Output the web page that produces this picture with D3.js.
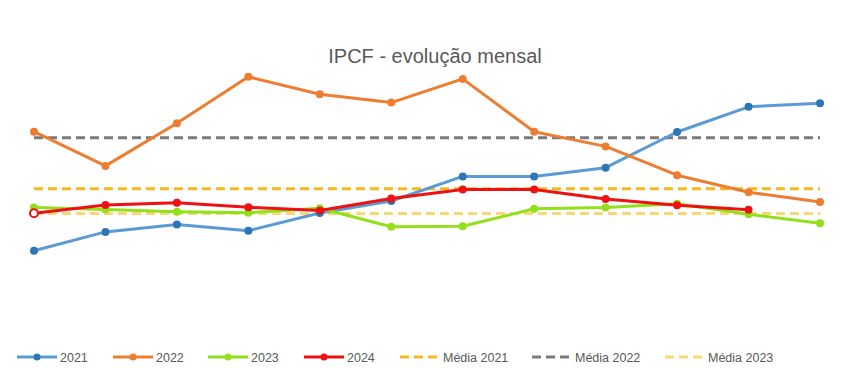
<!DOCTYPE HTML>
<html lang="pt">
<head>
<meta charset="utf-8">
<title>IPCF - evolução mensal</title>
<style>
html, body {
    margin: 0;
    background: #fff;
 }
svg text {
    font-family: "Liberation Sans", Arial, sans-serif;
    fill: #595959;
 }
</style>
</head>
<body>

<div id="chart"></div>

<script src="https://cdnjs.cloudflare.com/ajax/libs/d3/7.8.5/d3.min.js"></script>
<script>
(function() {
  'use strict';

// Data
const months = ['jan', 'fev', 'mar', 'abr', 'mai', 'jun', 'jul', 'ago', 'set', 'out', 'nov', 'dez'];
const ipcf2021 = [86.4, 92.7, 95.2, 93.1, 99.0, 103.0, 111.2, 111.2, 114.1, 126.0, 134.4, 135.6];
const ipcf2022 = [126.1, 114.7, 128.9, 144.4, 138.6, 135.8, 143.7, 126.1, 121.2, 111.6, 105.9, 102.7];
const ipcf2023 = [100.8, 100.2, 99.4, 99.1, 100.6, 94.4, 94.6, 100.4, 100.8, 102.1, 98.6, 95.6];
const ipcf2024 = [98.9, 101.7, 102.4, 100.9, 99.8, 103.8, 106.8, 106.8, 103.7, 101.6, 100.1];
const media2021 = 107.1;
const media2022 = 124.1;
const media2023 = 98.8;

// Configuration
const width = 849;
const height = 368;

const series = [
  { name: '2021', values: ipcf2021, color: '#5b9bd5', marker: '#2e75b6' },
  { name: '2022', values: ipcf2022, color: '#ed7d31', marker: '#ed7d31' },
  { name: '2023', values: ipcf2023, color: '#92e01a', marker: '#92e01a' },
  { name: '2024', values: ipcf2024, color: '#ee1111', marker: '#ee1111' }
];
const means = [
  { name: 'Média 2021', value: media2021, color: '#f5b91e', dash: '9,5' },
  { name: 'Média 2022', value: media2022, color: '#7a7a7a', dash: '9,5' },
  { name: 'Média 2023', value: media2023, color: '#f8d874', dash: '9,5' }
];

const x = d3.scalePoint().domain(months).range([34, 820]);
const y = d3.scaleLinear().domain([60, 160]).range([330, 30]);

const svg = d3.select('#chart')
  .append('svg')
  .attr('width', width)
  .attr('height', height);

svg.append('text')
  .attr('x', 435)
  .attr('y', 63)
  .attr('text-anchor', 'middle')
  .style('font-size', '20px')
  .text('IPCF - evolução mensal');

// Average lines
svg.selectAll('line.mean')
  .data(means)
  .enter()
  .append('line')
  .attr('class', 'mean')
  .attr('x1', x(months[0]))
  .attr('x2', x(months[months.length - 1]))
  .attr('y1', d => y(d.value))
  .attr('y2', d => y(d.value))
  .attr('stroke', d => d.color)
  .attr('stroke-width', 3)
  .attr('stroke-dasharray', d => d.dash);

const line = d3.line()
  .x((d, i) => x(months[i]))
  .y(d => y(d));

const groups = svg.selectAll('g.series')
  .data(series)
  .enter()
  .append('g')
  .attr('class', 'series');

groups.append('path')
  .attr('d', d => line(d.values))
  .attr('fill', 'none')
  .attr('stroke', d => d.color)
  .attr('stroke-width', 3)
  .attr('stroke-linejoin', 'round');

groups.each(function(s) {
  d3.select(this).selectAll('circle')
    .data(s.values)
    .enter()
    .append('circle')
    .attr('cx', (d, i) => x(months[i]))
    .attr('cy', d => y(d))
    .attr('r', 4)
    .attr('fill', (d, i) => (s.name === '2024' && i === 0) ? '#fff' : s.marker)
    .attr('stroke', s.marker)
    .attr('stroke-width', (d, i) => (s.name === '2024' && i === 0) ? 2 : 0);
});

// Legend
const legendItems = [
  { name: '2021', x: 17, color: '#5b9bd5', dot: '#2e75b6' },
  { name: '2022', x: 113, color: '#ed7d31', dot: '#ed7d31' },
  { name: '2023', x: 208, color: '#92e01a', dot: '#92e01a' },
  { name: '2024', x: 304, color: '#ee1111', dot: '#ee1111' },
  { name: 'Média 2021', x: 400, color: '#f5b91e', dash: '9,5' },
  { name: 'Média 2022', x: 532, color: '#7a7a7a', dash: '9,5' },
  { name: 'Média 2023', x: 665, color: '#f8d874', dash: '9,5' }
];
const ly = 357;
const legend = svg.selectAll('g.legend')
  .data(legendItems)
  .enter()
  .append('g')
  .attr('class', 'legend')
  .attr('transform', d => 'translate(' + d.x + ',' + ly + ')');

legend.append('line')
  .attr('x1', 0)
  .attr('x2', 40)
  .attr('stroke', d => d.color)
  .attr('stroke-width', 3)
  .attr('stroke-dasharray', d => d.dash || null);

legend.filter(d => d.dot)
  .append('circle')
  .attr('cx', 20)
  .attr('r', 3.5)
  .attr('fill', d => d.dot);

legend.append('text')
  .attr('x', 43)
  .attr('y', 4.5)
  .style('font-size', '12.5px')
  .text(d => d.name);

}());
</script>
</body>
</html>
